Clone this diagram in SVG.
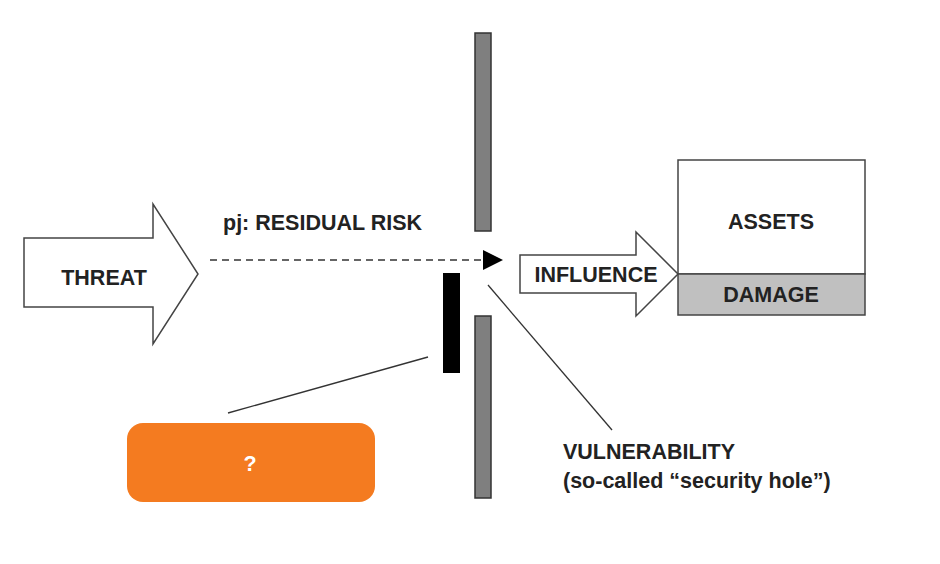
<svg xmlns="http://www.w3.org/2000/svg" width="940" height="564" viewBox="0 0 940 564">
<style>
text{font-family:"Liberation Sans",Arial,sans-serif;font-weight:bold;font-size:21.5px;fill:#222}
.sh{fill:#fff;stroke:#444;stroke-width:1.5}
.bar{fill:#7f7f7f;stroke:#333;stroke-width:1.5}
.ln{stroke:#333;stroke-width:1.3;fill:none}
</style>
<rect width="940" height="564" fill="#fff"/>
<g id="threat"><path class="sh" d="M24,238 H153 V204 L198,274 L153,344 V307 H24 Z"/><text x="104" y="285" text-anchor="middle">THREAT</text></g>
<g id="barrier"><rect class="bar" x="475" y="33" width="16" height="198"/><rect class="bar" x="475" y="316" width="16" height="182"/><rect x="443" y="273" width="17" height="100" fill="#000"/></g>
<g id="influence"><path class="sh" d="M520,255 H636 V232 L678,274 L636,316 V293 H520 Z"/><text x="596" y="282" text-anchor="middle">INFLUENCE</text></g>
<g id="assets"><rect class="sh" x="678" y="160" width="187" height="114"/><text x="771" y="229" text-anchor="middle">ASSETS</text></g>
<g id="damage"><rect x="678" y="274" width="187" height="41" fill="#c0c0c0" stroke="#444" stroke-width="1.5"/><text x="771" y="302" text-anchor="middle">DAMAGE</text></g>
<g id="question"><rect x="127" y="423" width="248" height="79" rx="16" fill="#f47b20"/><text x="250" y="471" text-anchor="middle" style="fill:#fff">?</text></g>
<g id="labels"><text x="223" y="230">pj: RESIDUAL RISK</text><text x="563" y="459">VULNERABILITY</text><text x="563" y="488">(so-called “security hole”)</text></g>
<g id="connectors">
<line class="ln" x1="210" y1="260" x2="482" y2="260" stroke-dasharray="7,5"/>
<path d="M483,250 L503,260 L483,270 Z" fill="#000"/>
<line class="ln" x1="228" y1="413" x2="428" y2="357"/>
<line class="ln" x1="488" y1="285" x2="612" y2="430"/>
</g>
</svg>
